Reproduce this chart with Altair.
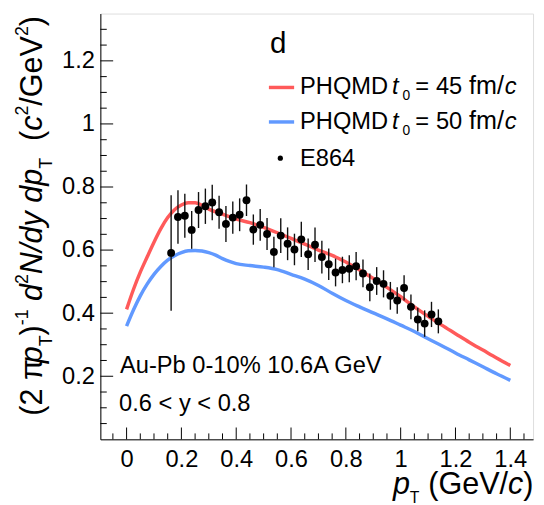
import altair as alt
import pandas as pd

FONT = "Liberation Sans"

# ---------------- data ----------------
# E864 measurements
e864_pt = [0.1625, 0.1875, 0.2125, 0.2375, 0.2625, 0.2875, 0.3125, 0.3375, 0.3625, 0.3875,
           0.4125, 0.4375, 0.4625, 0.4875, 0.5125, 0.5375, 0.5625, 0.5875, 0.6125, 0.6375,
           0.6625, 0.6875, 0.7125, 0.7375, 0.7625, 0.7875, 0.8125, 0.8375, 0.8625, 0.8875,
           0.9125, 0.9375, 0.9625, 0.9875, 1.0125, 1.0375, 1.0625, 1.0875, 1.1125, 1.1375]
e864_y = [0.591, 0.705, 0.709, 0.664, 0.727, 0.739, 0.751, 0.720, 0.683, 0.703,
          0.712, 0.758, 0.665, 0.680, 0.651, 0.594, 0.646, 0.620, 0.602, 0.634,
          0.587, 0.617, 0.578, 0.555, 0.529, 0.537, 0.541, 0.549, 0.526, 0.482,
          0.502, 0.493, 0.455, 0.440, 0.480, 0.420, 0.380, 0.367, 0.396, 0.374]
e864_err = [0.183, 0.085, 0.070, 0.060, 0.057, 0.056, 0.056, 0.052, 0.057, 0.051,
            0.052, 0.050, 0.048, 0.050, 0.051, 0.048, 0.055, 0.052, 0.050, 0.056,
            0.050, 0.055, 0.052, 0.050, 0.044, 0.042, 0.043, 0.045, 0.044, 0.044,
            0.044, 0.043, 0.044, 0.042, 0.040, 0.039, 0.037, 0.042, 0.040, 0.038]

# PHQMD t0 = 45 fm/c
red_pt = [0, 0.025, 0.05, 0.075, 0.1, 0.125, 0.15, 0.175, 0.2, 0.225, 0.25, 0.275, 0.3,
          0.35, 0.4, 0.45, 0.5, 0.55, 0.6, 0.65, 0.7, 0.75, 0.8, 0.85, 0.9, 0.95, 1.0,
          1.05, 1.1, 1.15, 1.2, 1.25, 1.3, 1.35, 1.4]
red_y = [0.412, 0.475, 0.530, 0.578, 0.625, 0.668, 0.703, 0.728, 0.743, 0.750, 0.750, 0.742, 0.730,
         0.714, 0.698, 0.687, 0.672, 0.655, 0.637, 0.619, 0.600, 0.583, 0.562, 0.537, 0.510, 0.482, 0.452,
         0.420, 0.390, 0.362, 0.335, 0.308, 0.283, 0.258, 0.234]

# PHQMD t0 = 50 fm/c
blue_pt = [0, 0.025, 0.05, 0.075, 0.1, 0.125, 0.15, 0.175, 0.2, 0.225, 0.25, 0.275, 0.3,
           0.325, 0.35, 0.375, 0.4, 0.45, 0.5, 0.55, 0.6, 0.65, 0.7, 0.75, 0.8, 0.85, 0.9,
           0.95, 1.0, 1.05, 1.1, 1.15, 1.2, 1.25, 1.3, 1.35, 1.4]
blue_y = [0.359, 0.410, 0.455, 0.492, 0.523, 0.548, 0.568, 0.582, 0.592, 0.598, 0.599, 0.597, 0.592,
          0.584, 0.573, 0.564, 0.557, 0.551, 0.546, 0.538, 0.523, 0.508, 0.488, 0.463, 0.440, 0.420, 0.401,
          0.382, 0.362, 0.342, 0.319, 0.297, 0.274, 0.252, 0.230, 0.208, 0.187]

x_tick_labels = [0, 0.2, 0.4, 0.6, 0.8, 1, 1.2, 1.4]
y_tick_labels = [0.2, 0.4, 0.6, 0.8, 1, 1.2]

RED = "#FF5A5A"
BLUE = "#6199FF"

# ---------------- frame ----------------
W, H = 439, 432
X_DOM = [-0.0957, 1.483]
Y_DOM = [0, 1.35]

xscale = alt.Scale(domain=X_DOM, nice=False, zero=False)
yscale = alt.Scale(domain=Y_DOM, nice=False, zero=False)
xaxis = alt.Axis(values=x_tick_labels, format="~g", ticks=False, tickSize=0, grid=False,
                 domainColor="black", domainWidth=1, labelFont=FONT, labelFontSize=24,
                 labelColor="black", labelBaseline="alphabetic", labelPadding=28,
                 labelFlush=False, labelOverlap=False, title=None)
yaxis = alt.Axis(values=y_tick_labels, format="~g", ticks=False, tickSize=0, grid=False,
                 domainColor="black", domainWidth=1, labelFont=FONT, labelFontSize=24,
                 labelColor="black", labelBaseline="middle", labelPadding=6,
                 labelFlush=False, labelOverlap=False, title=None)


def X(f):
    return alt.X(f, type="quantitative", scale=xscale, axis=xaxis)


def Y(f):
    return alt.Y(f, type="quantitative", scale=yscale, axis=yaxis)


pts = pd.DataFrame({"x": e864_pt, "y": e864_y,
                    "lo": [a - b for a, b in zip(e864_y, e864_err)],
                    "hi": [a + b for a, b in zip(e864_y, e864_err)]})
red_df = pd.DataFrame({"x": red_pt, "y": red_y})
blue_df = pd.DataFrame({"x": blue_pt, "y": blue_y})

# inward ROOT-style ticks
xmaj = [round(0.2 * i, 2) for i in range(8)]
xmin_ = [round(0.05 * i, 2) for i in range(-1, 30) if i % 4 != 0]
ymaj = [round(0.2 * i, 2) for i in range(1, 7)]
ymin_ = [round(0.05 * i, 2) for i in range(1, 27) if i % 4 != 0]

layers = []
layers.append(alt.Chart(pd.DataFrame({"x": xmaj})).mark_rule(color="black", strokeWidth=1)
              .encode(x=X("x"), y=alt.value(H), y2=alt.value(H - 12)))
layers.append(alt.Chart(pd.DataFrame({"x": xmin_})).mark_rule(color="black", strokeWidth=1)
              .encode(x=X("x"), y=alt.value(H), y2=alt.value(H - 6)))
layers.append(alt.Chart(pd.DataFrame({"y": ymaj})).mark_rule(color="black", strokeWidth=1)
              .encode(y=Y("y"), x=alt.value(0), x2=alt.value(13)))
layers.append(alt.Chart(pd.DataFrame({"y": ymin_})).mark_rule(color="black", strokeWidth=1)
              .encode(y=Y("y"), x=alt.value(0), x2=alt.value(6.5)))

layers.append(alt.Chart(red_df).mark_line(color=RED, strokeWidth=3.5, interpolate="monotone")
              .encode(x=X("x"), y=Y("y")))
layers.append(alt.Chart(blue_df).mark_line(color=BLUE, strokeWidth=3.5, interpolate="monotone")
              .encode(x=X("x"), y=Y("y")))
layers.append(alt.Chart(pts).mark_rule(color="#111111", strokeWidth=1.4)
              .encode(x=X("x"), y=Y("lo"), y2="hi"))
layers.append(alt.Chart(pts).mark_circle(color="black", opacity=1, size=64)
              .encode(x=X("x"), y=Y("y")))

dummy = pd.DataFrame({"k": [0]})


def txt(t, x, y, fs, italic=False, angle=None, align="left"):
    kw = dict(text=t, font=FONT, fontSize=fs, color="black", align=align, baseline="alphabetic")
    if italic:
        kw["fontStyle"] = "italic"
    if angle is not None:
        kw["angle"] = angle
    return alt.Chart(dummy).mark_text(**kw).encode(x=alt.value(x), y=alt.value(y))


ADV = {'(': 333, ')': 333, ' ': 278, '-': 333, 'π': 549, 'p': 556, 'T': 611, 'd': 556,
       'N': 722, '/': 278, 'y': 500, 'c': 500, 'G': 778, 'e': 556, 'V': 667, '=': 584}


def wid(s, fs):
    return sum(ADV.get(ch, 556) for ch in s) * fs / 1000.0


# panel label
layers.append(txt("d", 172.0, 40, 30))

# legend
layers.append(alt.Chart(dummy).mark_rule(color=RED, strokeWidth=3.5)
              .encode(x=alt.value(171), x2=alt.value(196.6), y=alt.value(75)))
layers.append(alt.Chart(dummy).mark_rule(color=BLUE, strokeWidth=3.5)
              .encode(x=alt.value(171), x2=alt.value(196.6), y=alt.value(110)))
layers.append(alt.Chart(dummy).mark_circle(color="black", opacity=1, size=28)
              .encode(x=alt.value(182.6), y=alt.value(146.7)))
for base, num in [(81.7, "45"), (116.7, "50")]:
    layers.append(txt("PHQMD", 202.6, base, 24))
    layers.append(txt("t", 295.8, base, 24, italic=True))
    layers.append(txt("0", 306.5, base + 6.3, 14))
    layers.append(txt("=", 319.5, base, 24))
    layers.append(txt(num, 340.5, base, 24))
    layers.append(txt("fm/", 374.0, base, 25.5))
    layers.append(txt("c", 374.0 + wid("fm/", 25.5) + 0.8, base, 24, italic=True))
layers.append(txt("E864", 202.6, 155, 24))

# annotations
layers.append(txt("Au-Pb 0-10% 10.6A GeV", 20, 364.5, 24))
layers.append(txt("0.6 < y < 0.8", 19, 403.3, 24))


def place(pieces, start, direction):
    """lay out rich-text pieces along a line; leading blanks only advance."""
    pos = start
    out = []
    for t, fs, it, shift in pieces:
        lead = len(t) - len(t.lstrip(" "))
        pos += direction * wid(" " * lead, fs)
        body = t.lstrip(" ")
        if body:
            out.append((body, pos, fs, it, shift))
        pos += direction * wid(body, fs)
    return out, pos


# x-axis title, right aligned at the frame edge
xt_pieces = [("p", 31, True, 0), ("T", 16, False, 9), ("  ", 16, False, 0),
             ("(GeV/", 31, False, 0), ("c", 31, True, 0), (")", 31, False, 0)]
_, endpos = place(xt_pieces, 0, 1)
xbase = 487.5
items, _ = place(xt_pieces, 439.5 - endpos, 1)
for body, pos, fs, it, shift in items:
    layers.append(txt(body, pos, xbase + shift, fs, italic=it))

# y-axis title (rotated, reads bottom to top)
ybase = -59.7
SUP, SUB = -14.0, 11.0
yt_pieces = [("(2 π", 31, False, 0), ("p", 31, True, 0), ("T", 18, False, SUB),
             (")", 31, False, 0), ("-1", 18, False, SUP), (" d", 31, True, 0),
             ("2", 18, False, SUP), ("N/dy dp", 31, True, 0), ("T", 18, False, SUB),
             ("  (", 31, False, 0), ("c", 31, True, 0), ("2", 18, False, SUP),
             ("/GeV", 31, False, 0), ("2", 18, False, SUP), (")", 31, False, 0)]
items, _ = place(yt_pieces, 408.0, -1)
for body, pos, fs, it, shift in items:
    layers.append(txt(body, ybase + shift, pos, fs, italic=it, angle=270))

chart = alt.layer(*layers).properties(
    width=W, height=H,
    autosize=alt.AutoSizeParams(type="none"),
    padding={"left": 93.7, "top": 2, "right": 3, "bottom": 63},
).configure_view(stroke="#dddddd", strokeWidth=1)

chart.save("out.html", embed_options={"renderer": "svg", "actions": False})
